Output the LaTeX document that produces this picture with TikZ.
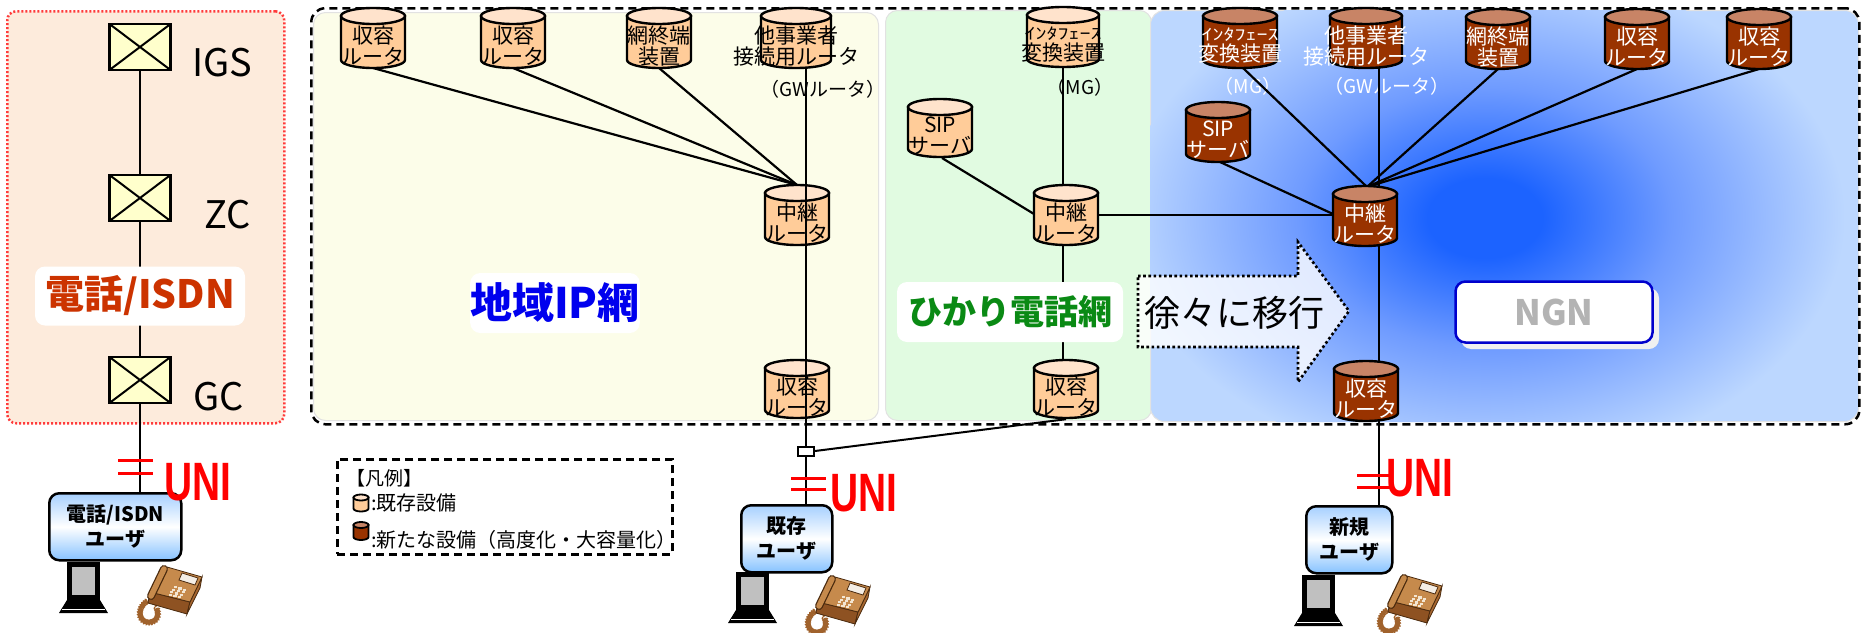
\documentclass[tikz,border=0pt]{standalone}
\usepackage{fontspec}
\setmainfont{Noto Sans CJK JP}
\newfontfamily\unifont{Liberation Sans}
\usetikzlibrary{decorations.pathmorphing}

\definecolor{panelfill}{HTML}{FDEBDC}
\definecolor{panelred}{HTML}{FF3B3B}
\definecolor{xfill}{HTML}{FFFFCC}
\definecolor{isdnred}{HTML}{CC3300}
\definecolor{ipfill}{HTML}{FCFDE9}
\definecolor{hkfill}{HTML}{E1FBE1}
\definecolor{ngnlight}{HTML}{BCD7FF}
\definecolor{ngnmid}{HTML}{6F9BFF}
\definecolor{ngncore}{HTML}{1C63FF}
\definecolor{regionedge}{HTML}{E2E2E2}
\definecolor{oldside}{HTML}{FFCC99}
\definecolor{oldtop}{HTML}{FFE3CC}
\definecolor{newside}{HTML}{993300}
\definecolor{newtop}{HTML}{C88466}
\definecolor{iptext}{HTML}{0000EE}
\definecolor{hktext}{HTML}{0A8A14}
\definecolor{ngnedge}{HTML}{0000CC}
\definecolor{ngngray}{HTML}{B3B3B3}
\definecolor{unired}{HTML}{FF0000}
\definecolor{ubtop}{HTML}{A6D0FF}
\definecolor{ubbot}{HTML}{86C2FF}
\definecolor{pcscreen}{HTML}{C0C0C0}
\definecolor{phtop}{HTML}{C68A4C}
\definecolor{phfront}{HTML}{8E5222}
\definecolor{phside}{HTML}{A86730}
\definecolor{phdark}{HTML}{4A2A0E}
\definecolor{phscreen}{HTML}{F4EEE6}
\definecolor{phkey}{HTML}{F3E6D2}
\definecolor{phcord}{HTML}{A0622C}

\newcommand\fsz[1]{\fontsize{#1}{#1}\selectfont}

% glow of the NGN area; the path's bounding box maps to the 25bp circle
\pgfdeclareradialshading{ngnglow}{\pgfpoint{0bp}{0bp}}{color(0bp)=(ngncore); color(4bp)=(ngncore); color(13bp)=(ngnmid); color(25bp)=(ngnlight); color(50bp)=(ngnlight)}

\tikzset{
  link/.style={draw=black, line width=2.2pt},
  xchg/.style={draw=black, line width=2.5pt, fill=xfill, minimum width=61pt, minimum height=46pt, inner sep=0pt,
    path picture={\draw[line width=2pt] (path picture bounding box.north west) -- (path picture bounding box.south east)
      (path picture bounding box.south west) -- (path picture bounding box.north east);}},
  xname/.style={font=\fsz{38}, inner sep=0pt},
  region/.style={draw=regionedge, line width=1pt, rounded corners=12pt, inner sep=0pt, anchor=north west},
  oldtext/.style={font=\fsz{21}, align=center, inner sep=0pt, text=black},
  newtext/.style={font=\fsz{21}, align=center, inner sep=0pt, text=white},
  tag/.style={font=\fsz{19}, inner sep=0pt},
  netlabel/.style={fill=white, rounded corners=10pt, inner sep=0pt},
  userbox/.style={draw=black, line width=2.5pt, rounded corners=10pt, top color=ubtop, bottom color=ubbot, middle color=white,
    font=\fontsize{20}{25}\selectfont\bfseries, align=center, inner sep=0pt, anchor=north west},
  unimark/.style={draw=unired, line width=3pt},
  unitext/.style={text=unired, inner sep=0pt, font=\unifont\bfseries\fsz{54}},
  legtext/.style={font=\fsz{20}, inner sep=0pt, anchor=west},
}

% cylinder: name, x, y, half width, half height, end radius, kind (old/new), text
\newcommand\drum[8]{%
  \path[fill=#7side, draw=black] ({#2-#4},{#3-#5+#6}) -- ({#2-#4},{#3+#5-#6})
    arc[start angle=180, end angle=0, x radius=#4, y radius=#6] -- ({#2+#4},{#3-#5+#6}) -- cycle;
  \path[fill=#7top, draw=black] (#2,{#3-#5+#6}) ellipse[x radius=#4, y radius=#6];
  \node[inner sep=0pt, minimum width={2*#4pt}, minimum height={2*#5pt}] (#1) at (#2,#3) {};
  \node[#7text] (#1t) at (#2,{#3+#6}) {#8};
}

% first line of the media gateway name, in narrow kana
\newcommand\ifline{\scalebox{1}[0.72]{\fsz{22}ｲﾝﾀﾌｪｰｽ}}

% desk telephone, origin at its top left corner
\newcommand\phoneicon[2]{%
  \begin{scope}[shift={(#1,#2)}, line width=0.8pt]
    \draw[phcord, line width=1.1pt, decorate, decoration={coil, amplitude=2.5pt, segment length=2.2pt}]
      (12,40) .. controls (-2,48) and (2,64) .. (14,62) .. controls (22,60) and (22,52) .. (18,45);
    \filldraw[fill=phfront, draw=phdark] (13,32) -- (53,42) -- (50,54) -- (11,43) -- cycle;
    \filldraw[fill=phside, draw=phdark] (53,42) -- (65,17) -- (63,28) -- (50,54) -- cycle;
    \filldraw[fill=phtop, draw=phdark] (30,7) -- (65,17) -- (53,42) -- (13,32) -- cycle;
    \filldraw[fill=phscreen, draw=phdark] (45,13) -- (61,18) -- (58,25) -- (42,20) -- cycle;
    \foreach \u in {0.42,0.54,0.66} \foreach \v in {0.1,0.2,0.3,0.4}
      \fill[phkey] ({13+40*\u+17*\v},{32+10*\u-25*\v}) rectangle ++(3.2,2.2);
    \draw[line cap=round, line width=8pt, phdark] (27,9) -- (14,36);
    \draw[line cap=round, line width=5.5pt, phtop] (27,9) -- (14,36);
  \end{scope}}

% personal computer, origin at the monitor's top left corner
\newcommand\pcicon[2]{%
  \begin{scope}[shift={(#1,#2)}]
    \fill[black] (0,0) rectangle (33,38);
    \fill[pcscreen] (5,5) rectangle (28,33);
    \fill[black] (0,38) -- (33,38) -- (41,51) -- (-8,51) -- cycle;
    \draw[white, line width=1pt] (-5,47) -- (38,47);
  \end{scope}}

\begin{document}
\begin{tikzpicture}[x=1pt, y=-1pt, line width=2.4pt]
\useasboundingbox (0,0) rectangle (1862,632);

% ---------- telephone / ISDN network ----------
\node[draw=panelred, fill=panelfill, line width=2.5pt, dash pattern=on 2pt off 2pt, rounded corners=9pt,
  minimum width=277pt, minimum height=412pt, inner sep=0pt, anchor=north west] (legacy) at (6,10) {};

% ---------- network regions ----------
\node[region, fill=ipfill, minimum width=565pt, minimum height=408pt] (ipnet) at (313,12) {};
\node[region, fill=hkfill, minimum width=266pt, minimum height=410pt] (hikari) at (885,10) {};
\node[region, fill=ngnlight, minimum width=708pt, minimum height=411pt, rounded corners=14pt] (ngn) at (1150,10) {};
\begin{scope}
  \clip[rounded corners=14pt] (ngn.north west) rectangle (ngn.south east);
  \shade[shading=ngnglow] (1485,218) ellipse[x radius=360, y radius=250];
\end{scope}
\node[draw=black, line width=2.5pt, dash pattern=on 8pt off 5pt, rounded corners=14pt,
  minimum width=1548pt, minimum height=416pt, inner sep=0pt, anchor=north west] (plant) at (310,7) {};

% ---------- exchanges ----------
\node[xchg] (igs) at (140,47) {};
\node[xchg] (zc) at (140,198) {};
\node[xchg] (gc) at (140,380) {};
\node[xname] (igsn) at (222,63) {IGS};
\node[xname] (zcn) at (228,215) {ZC};
\node[xname] (gcn) at (219,397) {GC};

% ---------- user sites ----------
\node[userbox, minimum width=132pt, minimum height=67pt] (u1) at (48,492) {電話/ISDN\\ユーザ};
\node[userbox, minimum width=91pt, minimum height=67pt] (u2) at (740,504) {既存\\ユーザ};
\node[userbox, minimum width=86pt, minimum height=67pt] (u3) at (1305,505) {新規\\ユーザ};

% ---------- device labels under the lines ----------
\node[tag] (gw1) at (823,89) {（GWルータ）};
\node[tag] (mg1) at (1080,87) {（MG）};
\node[tag, text=white] (mg2) at (1248,86) {（MG）};
\node[tag, text=white] (gw2) at (1387,86) {（GWルータ）};

% ---------- connectors ----------
\coordinate (jx) at (806,451);
\draw[link] (igs) -- (zc);
\draw[link] (zc) -- (gc);
\draw[link] (gc.south) -- (gc.south |- u1.north);

\draw[link] (373,68) -- (797,185);
\draw[link] (513,68) -- (797,185);
\draw[link] (659,68) -- (797,185);

\draw[link] (1063,67) -- (1063,185);
\draw[link] (942,158) -- (1034,214);
\draw[link] (1063,245) -- (1063,361);
\draw[link] (1098,215) -- (1333,215);

\draw[link] (1243,68) -- (1366,186);
\draw[link] (1379,68) -- (1379,186);
\draw[link] (1498,69) -- (1368,186);
\draw[link] (1637,69) -- (1369,186);
\draw[link] (1759,69) -- (1370,186);
\draw[link] (1220,162) -- (1333,214);
\draw[link] (1379,246) -- (1379,361);
\draw[link] (1379,421) -- (1379,505);

% ---------- routers and servers ----------
\drum{ysy1}{373}{38}{32}{30}{8}{old}{収容\\ルータ}
\drum{ysy2}{513}{38}{32}{30}{8}{old}{収容\\ルータ}
\drum{ynt}{659}{38}{32}{30}{8}{old}{網終端\\装置}
\drum{ygw}{796}{38}{35}{30}{8}{old}{他事業者\\接続用ルータ}
\drum{ychu}{797}{215}{32}{30}{8}{old}{中継\\ルータ}
\drum{ysy}{797}{389}{32}{29}{8}{old}{収容\\ルータ}

\drum{gif}{1063}{37}{36}{30}{8}{old}{\ifline\\変換装置}
\drum{gsip}{940}{128}{32}{29}{8}{old}{SIP\\サーバ}
\drum{gchu}{1066}{215}{32}{30}{8}{old}{中継\\ルータ}
\drum{gsy}{1066}{389}{32}{29}{8}{old}{収容\\ルータ}

\drum{nif}{1240}{38}{37}{30}{8}{new}{\ifline\\変換装置}
\drum{ngw}{1366}{38}{36}{30}{8}{new}{他事業者\\接続用ルータ}
\drum{nnt}{1498}{39}{32}{30}{8}{new}{網終端\\装置}
\drum{nsy1}{1637}{39}{32}{30}{8}{new}{収容\\ルータ}
\drum{nsy2}{1759}{39}{32}{30}{8}{new}{収容\\ルータ}
\drum{nsip}{1218}{132}{32}{30}{8}{new}{SIP\\サーバ}
\drum{nchu}{1365}{216}{32}{30}{8}{new}{中継\\ルータ}
\drum{nsy}{1366}{391}{32}{30}{8}{new}{収容\\ルータ}

% access line of the existing user, over the routers
\node[draw=black, fill=white, line width=2pt, minimum width=16pt, minimum height=9pt, inner sep=0pt] (j) at (jx) {};
\draw[link] (j.north |- ygw.south) -- (j.north);
\draw[link] (j.south) -- (j.south |- u2.north);
\draw[link, line width=2pt] (j.east) -- (gsy.south);

% ---------- network names ----------
\node[netlabel, minimum width=210pt, minimum height=59pt, text=isdnred, font=\fsz{39}\bfseries] (isdn) at (140,296) {電話/ISDN};
\node[netlabel, minimum width=167pt, minimum height=60pt, text=iptext, font=\fsz{42}\bfseries] (ipname) at (555,303) {地域IP網};
\node[netlabel, minimum width=226pt, minimum height=60pt, text=hktext, font=\fsz{34}\bfseries] (hkname) at (1010,312) {ひかり電話網};

\fill[gray!12, rounded corners=10pt] (1461,288) rectangle (1659,349);
\node[draw=ngnedge, fill=white, line width=2.5pt, rounded corners=10pt, minimum width=197pt, minimum height=61pt,
  inner sep=0pt, text=ngngray, font=\fsz{35}\bfseries] (ngnname) at (1554,312) {NGN};

% migration arrow
\path[fill=white, fill opacity=0.8, draw=black, draw opacity=1, line width=2.6pt, dash pattern=on 2.6pt off 2.6pt]
  (1138,276) -- (1298,276) -- (1298,242) -- (1349,311) -- (1298,382) -- (1298,347) -- (1138,347) -- cycle;
\node[font=\fsz{36}, inner sep=0pt] (shift) at (1234,313) {徐々に移行};

% ---------- user network interfaces ----------
\draw[unimark] (118,460) -- (153,460) (118,473) -- (153,473);
\draw[unimark] (791,478) -- (826,478) (791,489) -- (826,489);
\draw[unimark] (1357,475) -- (1390,475) (1357,487) -- (1390,487);
\node[unitext] (uni1) at (198,482) {\scalebox{0.72}[1]{UNI}};
\node[unitext] (uni2) at (864,493) {\scalebox{0.72}[1]{UNI}};
\node[unitext] (uni3) at (1420,478) {\scalebox{0.72}[1]{UNI}};

% ---------- terminals ----------
\pcicon{67}{562}
\pcicon{736}{572}
\pcicon{1302}{575}
\phoneicon{137}{560}
\phoneicon{805}{570}
\phoneicon{1377}{569}

% ---------- legend ----------
\node[draw=black, line width=2.5pt, dash pattern=on 8pt off 5pt, minimum width=335pt, minimum height=95pt,
  inner sep=0pt, anchor=north west] (leg) at (336,458) {};
\node[legtext, font=\fsz{19}] (legt) at (345,478) {【凡例】};
\begin{scope}[line width=1.8pt]
  \drum{lego}{361}{503}{7.5}{8.5}{3}{old}{}
  \drum{legn}{361}{531}{7.5}{9}{3}{new}{}
\end{scope}
\node[legtext] (legot) at (370,503) {:既存設備};
\node[legtext] (legnt) at (370,540) {:新たな設備（高度化・大容量化）};

\end{tikzpicture}
\end{document}
